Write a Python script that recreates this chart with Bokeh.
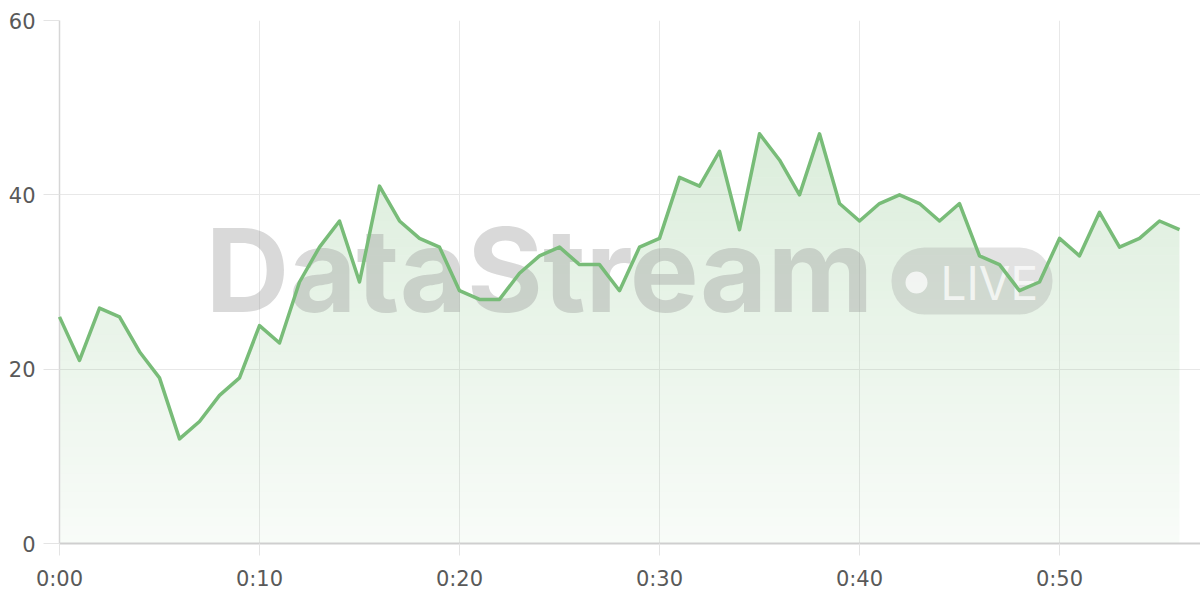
import numpy as np
from bokeh.plotting import figure
from bokeh.models import FixedTicker, Label, BoxAnnotation, Range1d
from bokeh.embed import file_html
from bokeh.resources import INLINE

# ---- data ----
minutes = list(range(57))
values = [26, 21, 27, 26, 22, 19, 12, 14, 17, 19,
          25, 23, 30, 34, 37, 30, 41, 37, 35, 34,
          29, 28, 28, 31, 33, 34, 32, 32, 29, 34,
          35, 42, 41, 45, 36, 47, 44, 40, 47, 39,
          37, 39, 40, 39, 37, 39, 33, 32, 29, 30,
          35, 33, 38, 34, 35, 37, 36]
x_ticks = [0, 10, 20, 30, 40, 50]
x_tick_labels = ["0:00", "0:10", "0:20", "0:30", "0:40", "0:50"]
y_ticks = [0, 20, 40, 60]

GREEN = "#78bc78"
WM_FONT = "Inter"
AX_FONT = "DejaVu Sans"

p = figure(width=1200, height=600, output_backend="svg", toolbar_location=None,
           x_range=Range1d(0, 57.05), y_range=Range1d(0, 60),
           min_border_left=59, min_border_right=0, min_border_top=20, min_border_bottom=57)
p.outline_line_color = None
p.background_fill_color = "white"

# ---- gradient area fill (horizontal bands, alpha rising with height) ----
xa = np.array(minutes, dtype=float)
va = np.array(values, dtype=float)
extra = []
for i in range(len(va) - 1):
    a, b = va[i], va[i + 1]
    if a == b:
        continue
    lo, hi = min(a, b), max(a, b)
    for k in np.arange(np.floor(lo) + 1, np.ceil(hi)):
        extra.append(xa[i] + (k - a) / (b - a))
xs = np.unique(np.concatenate([xa, np.array(extra)]))
fs = np.interp(xs, xa, va)
for k in range(60):
    y2 = np.clip(fs, k, k + 1)
    alpha = 0.05 + 0.27 * (k + 0.5) / 60.0
    p.varea(x=xs, y1=np.full_like(xs, float(k)), y2=y2,
            fill_color=GREEN, fill_alpha=alpha)

# ---- watermark ----
wm_color = "#969696"
p.add_layout(Label(x=7.3, y=31.43, text="DataStream", text_font=WM_FONT,
                   text_font_style="bold", text_font_size="116px",
                   text_color=wm_color, text_alpha=0.36,
                   text_baseline="alphabetic", text_align="left"))
p.add_layout(BoxAnnotation(left=41.6, right=49.65, bottom=26.27, top=33.96,
                           fill_color=wm_color, fill_alpha=0.28, line_color=None,
                           border_radius=33))
p.add_layout(BoxAnnotation(left=42.3, right=43.4, bottom=28.68, top=31.2,
                           fill_color="white", fill_alpha=0.72, line_color=None,
                           border_radius=11))
p.add_layout(Label(x=44.05, y=29.94, text="LIVE", text_font=WM_FONT,
                   text_font_size="46px", text_color="white", text_alpha=0.72,
                   text_baseline="alphabetic", text_align="left"))

# ---- line ----
ln = p.line(minutes, values, line_color=GREEN, line_width=3.5, line_join="round")
ln.level = "overlay"

# ---- axes & grid ----
p.xaxis.ticker = FixedTicker(ticks=x_ticks)
p.xaxis.major_label_overrides = {t: l for t, l in zip(x_ticks, x_tick_labels)}
p.yaxis.ticker = FixedTicker(ticks=y_ticks)

for ax in (p.xaxis[0], p.yaxis[0]):
    ax.major_label_text_font = AX_FONT
    ax.major_label_text_font_size = "21px"
    ax.major_label_text_color = "#595959"
    ax.major_tick_line_color = "#e4e4e4"
    ax.major_tick_in = 0
    ax.minor_tick_line_color = None

p.xaxis.major_tick_out = 12
p.xaxis.major_label_standoff = 11
p.xaxis.axis_line_color = "#cfcfcf"
p.xaxis.axis_line_width = 2
p.yaxis.major_tick_out = 16
p.yaxis.major_label_standoff = 8
p.yaxis.axis_line_color = "#d6d6d6"
p.yaxis.axis_line_width = 1.5

p.xgrid.grid_line_color = "#e8e8e8"
p.ygrid.grid_line_color = "#e8e8e8"
p.xgrid.grid_line_width = 1
p.ygrid.grid_line_width = 1

open("out.html", "w").write(file_html(p, INLINE))
